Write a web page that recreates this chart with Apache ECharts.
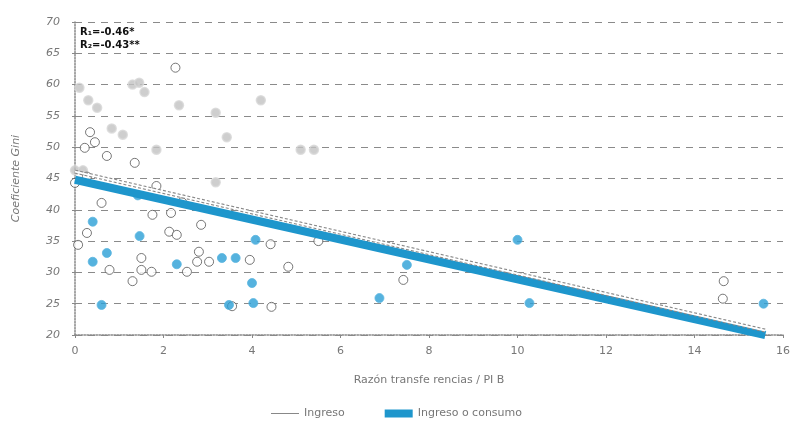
<!DOCTYPE html>
<html>
<head>
<meta charset="utf-8">
<script src="https://cdn.jsdelivr.net/npm/echarts@6/dist/echarts.min.js"></script>
<style>html,body{margin:0;padding:0;background:#fff}#c{width:793px;height:428px}</style>
</head>
<body>
<div id="c"></div>
<script>
// Data
var xTicks = [0, 2, 4, 6, 8, 10, 12, 14, 16];
var yTicks = [20, 25, 30, 35, 40, 45, 50, 55, 60, 65, 70];
var greyPoints = [[0.1,59.5],[0.3,57.5],[0.5,56.3],[1.3,60],[1.45,60.3],[1.57,58.8],[2.35,56.7],[0.83,53],[1.08,52],[1.84,49.6],[0,46.3],[0.18,46.3],[4.2,57.5],[3.18,55.5],[3.43,51.6],[5.1,49.6],[5.4,49.6],[3.18,44.4]];
var openPoints = [[2.27,62.7],[0.34,52.4],[0.45,50.8],[0.22,49.9],[0.72,48.6],[1.35,47.5],[0,44.3],[0.27,45.3],[1.84,43.8],[2.42,41.2],[0.6,41.1],[1.75,39.2],[2.17,39.5],[2.13,36.5],[2.3,36],[2.85,37.6],[0.27,36.3],[0.07,34.4],[1.5,32.3],[0.78,30.4],[1.5,30.4],[1.73,30.1],[1.3,28.6],[2.53,30.1],[2.76,31.7],[2.8,33.3],[3.03,31.7],[3.95,32],[4.42,34.5],[4.44,24.5],[3.55,24.6],[4.82,30.9],[5.5,35],[7.42,28.8],[14.66,28.6],[14.64,25.8]];
var bluePoints = [[1.42,42.3],[0.4,38.1],[1.46,35.8],[0.72,33.1],[0.4,31.7],[2.3,31.3],[0.6,24.8],[3.32,32.3],[3.63,32.3],[4.08,35.2],[4.0,28.3],[3.48,24.8],[4.03,25.1],[6.88,25.9],[7.5,31.2],[10.0,35.2],[10.27,25.1],[15.56,25]];
var ingresoLine = [[0,46.1],[15.6,20.7]];
var consumoLine = [[0,44.8],[15.6,20.0]];
var annotations = ['R\u2081=-0.46*', 'R\u2082=-0.43**'];

var chart = echarts.init(document.getElementById('c'));
var txt = '#777';
chart.setOption({
  animation: false,
  grid: {left: 75, right: 5, top: 22, bottom: 93},
  xAxis: {
    type: 'value', min: xTicks[0], max: xTicks[xTicks.length-1], interval: 2,
    name: 'Razón transfe rencias / PI B', nameLocation: 'middle', nameGap: 40,
    nameTextStyle: {color: txt, fontSize: 11, fontFamily: 'DejaVu Sans'},
    axisLine: {lineStyle: {color: '#888', type: 'dotted', width: 1.5}},
    axisTick: {show: true, length: 3, inside: false, lineStyle: {color: '#888'}},
    axisLabel: {color: txt, fontSize: 11, margin: 11, fontFamily: 'DejaVu Sans'},
    splitLine: {show: false}
  },
  yAxis: {
    type: 'value', min: yTicks[0], max: yTicks[yTicks.length-1], interval: 5,
    name: 'Coeficiente Gini', nameLocation: 'middle', nameGap: 53,
    nameTextStyle: {color: txt, fontSize: 11, fontStyle: 'italic', fontFamily: 'DejaVu Sans'},
    axisLine: {show: true, lineStyle: {color: '#888', type: 'dotted', width: 1.5}},
    axisTick: {show: true, length: 3, lineStyle: {color: '#888'}},
    axisLabel: {color: txt, fontSize: 11, margin: 15, fontStyle: 'italic', fontFamily: 'DejaVu Sans'},
    splitLine: {show: true, lineStyle: {color: '#8a8a8a', type: [7, 6], width: 1.2}}
  },
  legend: {
    bottom: 4, left: 'center', itemGap: 40, itemWidth: 28, itemHeight: 8,
    textStyle: {color: txt, fontSize: 11, fontFamily: 'DejaVu Sans'},
    data: [
      {name: 'Ingreso', icon: 'path://M0,4 L28,4 L28,5 L0,5 Z', itemStyle: {color: '#888'}},
      {name: 'Ingreso o consumo', icon: 'rect', itemStyle: {color: '#1e96cc'}}
    ]
  },
  graphic: [
    {type: 'text', left: 80, top: 27, style: {text: annotations[0], fill: '#111', font: 'bold 10px DejaVu Sans'}},
    {type: 'text', left: 80, top: 40, style: {text: annotations[1], fill: '#111', font: 'bold 10px DejaVu Sans'}}
  ],
  series: [
    {type: 'scatter', name: 'g', data: greyPoints, symbolSize: 9, z: 3,
     itemStyle: {color: '#c2c2c2', borderColor: '#d8d8d8', borderWidth: 1.5}},
    {type: 'scatter', name: 'o', data: openPoints, symbolSize: 9, z: 3,
     itemStyle: {color: '#fff', borderColor: '#555', borderWidth: 1}},
    {type: 'scatter', name: 'b', data: bluePoints, symbolSize: 9, z: 3,
     itemStyle: {color: '#2a9fd6', borderColor: '#5ab5e0', borderWidth: 1}},
    {type: 'line', name: 'Ingreso o consumo', data: consumoLine, symbol: 'none', z: 4,
     lineStyle: {color: '#1e96cc', width: 8}},
    {type: 'line', name: 'Ingreso', data: ingresoLine, symbol: 'none', z: 5,
     lineStyle: {color: '#888', width: 4, type: [3, 2]}},
    {type: 'line', name: 'IngresoInner', data: ingresoLine, symbol: 'none', z: 6,
     lineStyle: {color: '#fff', width: 1.6}}
  ]
});
</script>
</body>
</html>
